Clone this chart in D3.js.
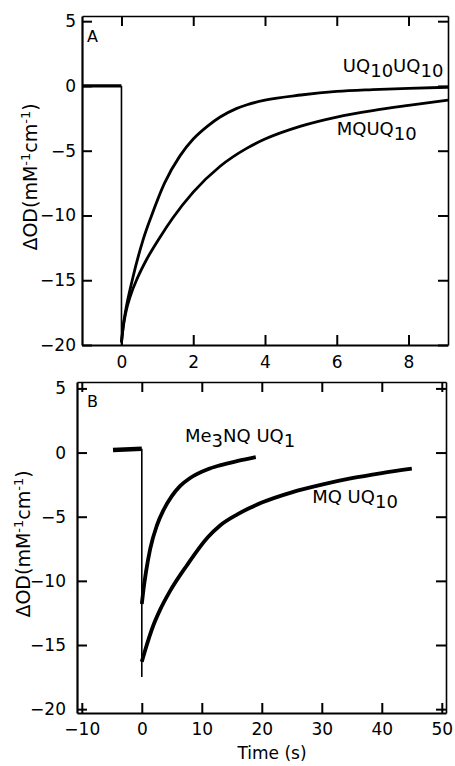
<!DOCTYPE html>
<html>
<head>
<meta charset="utf-8">
<script src="https://cdn.jsdelivr.net/npm/d3@7"></script>
<style>
  body { margin: 0; background: #fff; }
  svg { display: block; }
  text { font-family: "DejaVu Sans", sans-serif; fill: #000; }
</style>
</head>
<body>
<svg width="455" height="766"></svg>
<script>
//
// Data: [time (s), dOD (mM-1 cm-1)]
//

// panel A
const aTicksX = [0, 2, 4, 6, 8];
const aTicksY = [5, 0, -5, -10, -15, -20];
const aBaseline = [[-1.1, 0], [0, 0]];
const aDrop = [[0, 0], [0, -20]];
const aUQ10UQ10 = [[0, -19.8], [0.05, -18.5], [0.12, -17.3], [0.3, -15], [0.6, -11.9], [0.84, -10],
  [1.2, -7.5], [1.63, -5.4], [2, -4.1], [2.4, -3.1], [2.75, -2.4], [3.2, -1.75], [3.5, -1.45],
  [4, -1.1], [5, -0.7], [6, -0.42], [7, -0.28], [8, -0.18], [9.1, -0.1]];
const aMQUQ10 = [[0, -19.8], [0.05, -18.6], [0.12, -17.5], [0.25, -16.2], [0.45, -14.8], [0.7, -13.4],
  [1.07, -11.7], [1.43, -10.2], [2, -8.2], [2.75, -6.2], [3.5, -4.8], [4, -4.1], [5, -3.1],
  [6, -2.4], [7, -1.9], [8, -1.5], [9.1, -1.1]];

// panel B
const bTicksX = [-10, 0, 10, 20, 30, 40, 50];
const bTicksY = [5, 0, -5, -10, -15, -20];
const bBaseline = [[-4.8, 0.2], [0, 0.3]];
const bDrop = [[0, 0.3], [0, -17.5]];
const bMe3NQUQ1 = [[0, -11.8], [0.3, -10.6], [0.7, -9.3], [1.4, -7.5], [2.5, -5.7], [3.6, -4.5],
  [5, -3.4], [6.4, -2.6], [8, -2], [11, -1.3], [13, -1], [16, -0.65], [19, -0.35]];
const bMQUQ10 = [[0, -16.3], [0.5, -15.5], [1.9, -13.5], [3, -12.3], [4.7, -10.8], [7.5, -8.8],
  [11, -6.6], [13, -5.7], [16, -4.8], [20, -3.9], [25, -3.1], [30, -2.5], [35, -2], [40, -1.6],
  [45, -1.25]];

const svg = d3.select('svg');

// one panel = box with inward ticks on all four sides
function drawPanel(p) {
  const x = d3.scaleLinear().domain(p.xDomain).range(p.xRange);
  const y = d3.scaleLinear().domain(p.yDomain).range(p.yRange);
  const g = svg.append('g');

  const axes = [
    [d3.axisBottom(x).tickValues(p.ticksX).tickPadding(p.xPad), `translate(0,${p.yRange[0]})`, true],
    [d3.axisTop(x).tickValues(p.ticksX).tickFormat(''), `translate(0,${p.yRange[1]})`, false],
    [d3.axisLeft(y).tickValues(p.ticksY).tickPadding(p.yPad), `translate(${p.xRange[0]},0)`, true],
    [d3.axisRight(y).tickValues(p.ticksY).tickFormat(''), `translate(${p.xRange[1]},0)`, false]
  ];
  axes.forEach(([ax, tr, labels]) => {
    const a = g.append('g')
      .attr('transform', tr)
      .call(ax.tickSizeInner(-10).tickSizeOuter(0));
    a.select('.domain').attr('stroke', '#000').attr('stroke-width', labels ? 2.2 : 1.6);
    a.selectAll('.tick line').attr('stroke', '#000').attr('stroke-width', 2);
    a.selectAll('.tick text')
      .style('font-family', '"DejaVu Sans", sans-serif')
      .style('font-size', '17px')
      .attr('fill', '#000');
  });

  const line = d3.line().x(d => x(d[0])).y(d => y(d[1]));
  const curve = d3.line().x(d => x(d[0])).y(d => y(d[1])).curve(d3.curveMonotoneX);

  g.append('path').attr('d', line(p.baseline))
    .attr('fill', 'none').attr('stroke', '#000').attr('stroke-width', p.baseWidth);
  g.append('path').attr('d', line(p.drop))
    .attr('fill', 'none').attr('stroke', '#000').attr('stroke-width', 1.6);
  p.series.forEach(s => {
    g.append('path').attr('d', curve(s))
      .attr('fill', 'none').attr('stroke', '#000')
      .attr('stroke-width', p.curveWidth).attr('stroke-linejoin', 'round');
  });

  // curve names, with subscripts
  p.names.forEach(n => {
    const t = g.append('text')
      .attr('x', x(n.t)).attr('y', y(n.v))
      .style('font-size', '18px');
    n.parts.forEach(([str, sub]) => {
      t.append('tspan')
        .attr('dy', sub ? 5 : (t.selectAll('tspan').size() > 0 ? -5 : 0))
        .text(str);
    });
  });

  // panel letter
  g.append('text')
    .attr('x', p.xRange[0] + p.letterDx).attr('y', p.yRange[1] + p.letterDy)
    .style('font-size', '16px')
    .text(p.letter);

  // y title
  const yt = g.append('text')
    .attr('transform', `translate(${p.titleX},${p.titleY}) rotate(-90)`)
    .attr('text-anchor', 'middle')
    .style('font-size', '19px');
  yt.append('tspan').text('ΔOD(mM');
  yt.append('tspan').attr('dy', -7).style('font-size', '13px').text('-1');
  yt.append('tspan').attr('dy', 7).text('cm');
  yt.append('tspan').attr('dy', -7).style('font-size', '13px').text('-1');
  yt.append('tspan').attr('dy', 7).text(')');
}

drawPanel({
  xDomain: [-1.1, 9.1], xRange: [82, 448],
  yDomain: [-20, 5.4], yRange: [345, 16],
  ticksX: aTicksX, ticksY: aTicksY, xPad: 11, yPad: 6,
  baseline: aBaseline, drop: aDrop, series: [aUQ10UQ10, aMQUQ10],
  baseWidth: 3.2, curveWidth: 2.8,
  names: [
    { t: 6.17, v: 0.7, parts: [['UQ', false], ['10', true], ['UQ', false], ['10', true]] },
    { t: 6.0, v: -4.18, parts: [['MQUQ', false], ['10', true]] }
  ],
  letter: 'A', letterDx: 5, letterDy: 26,
  titleX: 37, titleY: 177
});

drawPanel({
  xDomain: [-10.8, 50.7], xRange: [77, 446],
  yDomain: [-20.3, 5.5], yRange: [713, 382],
  ticksX: bTicksX, ticksY: bTicksY, xPad: 10, yPad: 11,
  baseline: bBaseline, drop: bDrop, series: [bMe3NQUQ1, bMQUQ10],
  baseWidth: 4.5, curveWidth: 3.8,
  names: [
    { t: 7.2, v: 0.44, parts: [['Me', false], ['3', true], ['NQ UQ', false], ['1', true]] },
    { t: 28.4, v: -4.3, parts: [['MQ UQ', false], ['10', true]] }
  ],
  letter: 'B', letterDx: 10, letterDy: 25,
  titleX: 30, titleY: 544
});

// shared x title
svg.append('text')
  .attr('x', 272).attr('y', 759)
  .attr('text-anchor', 'middle')
  .style('font-size', '17px')
  .text('Time (s)');
</script>
</body>
</html>
